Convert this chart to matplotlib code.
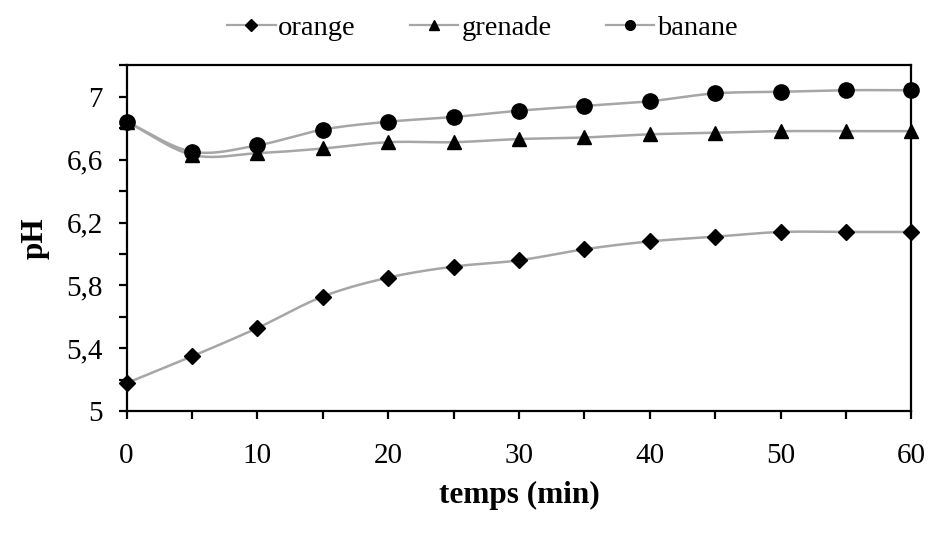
import numpy as np
import matplotlib
matplotlib.use("Agg")
from matplotlib import pyplot as plt
from matplotlib.ticker import MultipleLocator, FixedLocator, FuncFormatter

# donnees
temps = [0, 5, 10, 15, 20, 25, 30, 35, 40, 45, 50, 55, 60]
orange = [5.18, 5.35, 5.53, 5.73, 5.85, 5.92, 5.96, 6.03, 6.08, 6.11, 6.14, 6.14, 6.14]
grenade = [6.84, 6.63, 6.64, 6.67, 6.71, 6.71, 6.73, 6.74, 6.76, 6.77, 6.78, 6.78, 6.78]
banane = [6.84, 6.65, 6.69, 6.79, 6.84, 6.87, 6.91, 6.94, 6.97, 7.02, 7.03, 7.04, 7.04]
yticks = [5, 5.4, 5.8, 6.2, 6.6, 7]


def lisse(x, y, n=20):
    # courbe lissee (Catmull-Rom) comme les "courbes lissees" d'Excel
    x = np.asarray(x, float)
    y = np.asarray(y, float)
    px = np.concatenate([[2 * x[0] - x[1]], x, [2 * x[-1] - x[-2]]])
    py = np.concatenate([[2 * y[0] - y[1]], y, [2 * y[-1] - y[-2]]])
    xs, ys = [], []
    t = np.linspace(0, 1, n, endpoint=False)
    for i in range(1, len(px) - 2):
        for p, out in ((px, xs), (py, ys)):
            p0, p1, p2, p3 = p[i - 1], p[i], p[i + 1], p[i + 2]
            out.extend(0.5 * (2 * p1 + (-p0 + p2) * t
                              + (2 * p0 - 5 * p1 + 4 * p2 - p3) * t ** 2
                              + (-p0 + 3 * p1 - 3 * p2 + p3) * t ** 3))
    xs.append(x[-1])
    ys.append(y[-1])
    return xs, ys


plt.rcParams['font.family'] = ['Liberation Serif', 'DejaVu Serif']

fig = plt.figure(figsize=(9.31, 5.33), dpi=100)
ax = fig.add_axes([0.136, 0.228, 0.843, 0.650])

gris = '#a6a6a6'
series = [(orange, 'D', 8.3, 6.5, 'orange'),
          (grenade, '^', 10.5, 7.5, 'grenade'),
          (banane, 'o', 11, 7.0, 'banane')]
for vals, m, ms, msl, lab in series:
    xs, ys = lisse(temps, vals)
    ax.plot(xs, ys, color=gris, lw=1.8, zorder=2)
    ax.plot(temps, vals, linestyle='none', marker=m, ms=ms, color='black', zorder=3, clip_on=False)
    ax.plot([], [], color=gris, lw=1.6, marker=m, ms=msl, markerfacecolor='black',
            markeredgecolor='black', label=lab)

ax.set_xlim(0, 60)
ax.set_ylim(5, 7.2)
ax.xaxis.set_major_locator(MultipleLocator(10))
ax.xaxis.set_minor_locator(MultipleLocator(5))
ax.yaxis.set_major_locator(FixedLocator(yticks))
ax.yaxis.set_minor_locator(MultipleLocator(0.2))
ax.yaxis.set_major_formatter(FuncFormatter(lambda v, p: ('%g' % round(v, 2)).replace('.', ',')))

for s in ax.spines.values():
    s.set_linewidth(1.6)
ax.tick_params(which='both', direction='out', length=6, width=1.6, labelsize=21)
ax.tick_params(axis='x', pad=17)
ax.tick_params(axis='y', pad=11)

ax.set_xlabel('temps (min)', fontsize=22.5, fontweight='bold', labelpad=8)
ax.set_ylabel('pH', fontsize=22.5, fontweight='bold', labelpad=12)

fig.legend(loc='center', bbox_to_anchor=(0.518, 0.948), ncol=3, frameon=False,
           fontsize=20.5, handlelength=1.7, handletextpad=0.1, columnspacing=1.9,
           borderaxespad=0)

fig.savefig('out.png', dpi=100)
